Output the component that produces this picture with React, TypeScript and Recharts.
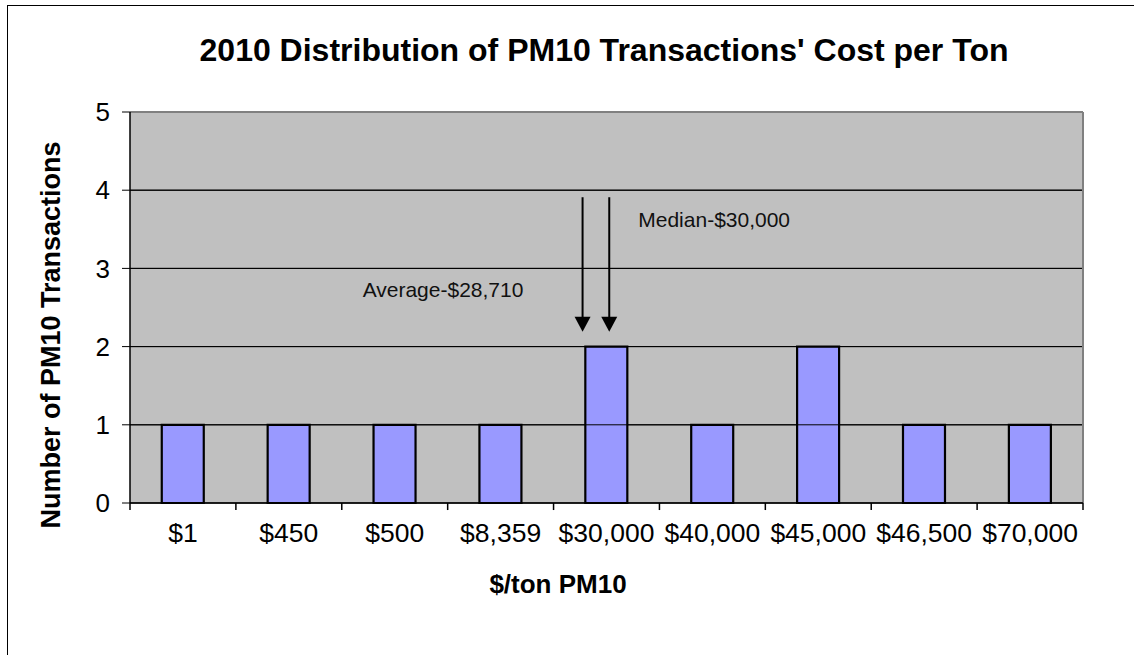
import React from 'react';
import { BarChart, Bar, XAxis, YAxis, CartesianGrid, ReferenceLine, ReferenceDot } from 'recharts';

const costLabels = ['$1', '$450', '$500', '$8,359', '$30,000', '$40,000', '$45,000', '$46,500', '$70,000'];
const transactionCounts = [1, 1, 1, 1, 2, 1, 2, 1, 1];
const yTicks = [0, 1, 2, 3, 4, 5];
const innerGridLines = [1, 2, 3, 4];
const boundaryTicks = [0, 1, 2, 3, 4, 5, 6, 7, 8, 9];
const annotationTexts = ['Average-$28,710', 'Median-$30,000'];

// slot = centre of each category on a 0..9 numeric axis, used for boundary ticks and notes
const data = costLabels.map((cost, i) => ({ cost, slot: i + 0.5, count: transactionCounts[i] }));

const FONT = '"Liberation Sans", Arial, sans-serif';

// where the arrows and notes sit, in axis units (category slots on x)
const arrows = [
  { x: 4.274, from: 3.91, to: 2.19 },
  { x: 4.526, from: 3.91, to: 2.19 },
];
const notes = [
  { text: annotationTexts[0], x: 2.197, y: 2.634 },
  { text: annotationTexts[1], x: 4.8, y: 3.53 },
];

const Arrow = (p: any) => {
  const { x1, y1, x2, y2 } = p;
  return (
    <g>
      <line x1={x1} y1={y1} x2={x2} y2={y2 - 14} stroke="#000" strokeWidth={2} />
      <polygon points={`${x2 - 8},${y2 - 15} ${x2 + 8},${y2 - 15} ${x2},${y2}`} fill="#000" />
    </g>
  );
};

const App: React.FC = () => {
  return (
    <div style={{ position: 'absolute', left: 0, top: 0, width: 1134, height: 655, background: '#fff' }}>
      <div
        style={{
          position: 'absolute',
          left: 7,
          top: 5,
          right: 0,
          bottom: 0,
          borderLeft: '1.5px solid #000',
          borderTop: '1.5px solid #000',
        }}
      />
      <BarChart
        width={1134}
        height={655}
        data={data}
        margin={{ top: 112, right: 51, bottom: 100, left: 70 }}
        barCategoryGap="30%"
        style={{ position: 'absolute', left: 0, top: 0 }}
      >
        <CartesianGrid fill="#C0C0C0" stroke="#000" vertical={false} />
        <XAxis xAxisId="slots" dataKey="slot" type="number" domain={[0, 9]} allowDataOverflow hide />
        <XAxis
          dataKey="cost"
          height={52}
          tickSize={0}
          tickMargin={20}
          axisLine={{ stroke: '#000', strokeWidth: 1.5 }}
          tickLine={false}
          tick={{ fill: '#000', fontSize: 26.5, fontFamily: FONT }}
          interval={0}
        />
        <YAxis
          width={60}
          domain={[0, 5]}
          ticks={yTicks}
          tickSize={8}
          tickMargin={12}
          axisLine={{ stroke: '#000', strokeWidth: 1.5 }}
          tickLine={{ stroke: '#000' }}
          tick={{ fill: '#000', fontSize: 26, fontFamily: FONT }}
        />
        {innerGridLines.map((v) => (
          <ReferenceLine key={v} y={v} stroke="#000" strokeWidth={1} />
        ))}
        <ReferenceLine y={5} stroke="#808080" strokeWidth={2} />
        <ReferenceLine xAxisId="slots" x={9} stroke="#808080" strokeWidth={2} />
        {boundaryTicks.map((t) => (
          <ReferenceLine
            key={'t' + t}
            xAxisId="slots"
            ifOverflow="visible"
            segment={[
              { x: t, y: 0 },
              { x: t, y: -0.09 },
            ]}
            stroke="#000"
            strokeWidth={1.5}
          />
        ))}
        <Bar dataKey="count" fill="#9999FF" stroke="#000" strokeWidth={2.2} isAnimationActive={false} />
        {arrows.map((a, i) => (
          <ReferenceLine
            key={'a' + i}
            xAxisId="slots"
            segment={[
              { x: a.x, y: a.from },
              { x: a.x, y: a.to },
            ]}
            shape={Arrow}
          />
        ))}
        {notes.map((n, i) => (
          <ReferenceDot
            key={'n' + i}
            xAxisId="slots"
            x={n.x}
            y={n.y}
            r={0}
            shape={(p: any) => (
              <text x={p.cx} y={p.cy} fontSize={21} fontFamily={FONT} fill="#111">
                {n.text}
              </text>
            )}
          />
        ))}
      </BarChart>
      <svg width={1134} height={655} style={{ position: 'absolute', left: 0, top: 0, pointerEvents: 'none' }}>
        <text x={604} y={61} textAnchor="middle" fontSize={32} fontWeight="bold" fontFamily={FONT} fill="#000">
          2010 Distribution of PM10 Transactions' Cost per Ton
        </text>
        <text x={558} y={593} textAnchor="middle" fontSize={26} fontWeight="bold" fontFamily={FONT} fill="#000">
          $/ton PM10
        </text>
        <text
          x={60}
          y={335}
          textAnchor="middle"
          fontSize={27}
          fontWeight="bold"
          fontFamily={FONT}
          fill="#000"
          transform="rotate(-90, 60, 335)"
        >
          Number of PM10 Transactions
        </text>
      </svg>
    </div>
  );
};

export default App;
